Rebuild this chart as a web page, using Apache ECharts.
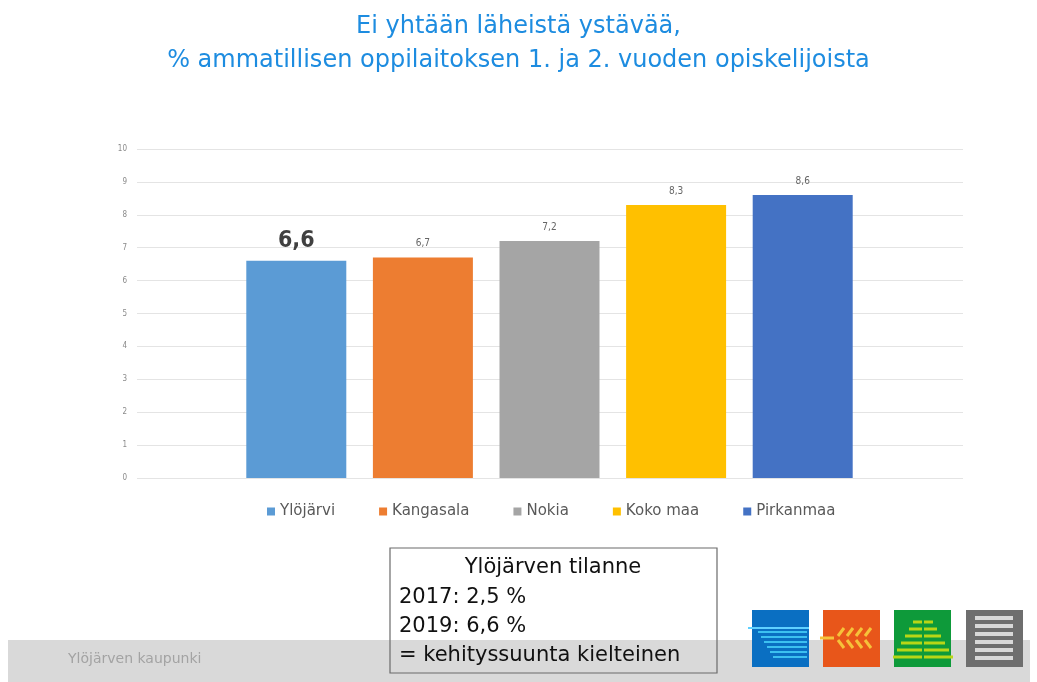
<!DOCTYPE html>
<html>
<head>
<meta charset="utf-8">
<script src="https://cdn.jsdelivr.net/npm/echarts@6/dist/echarts.min.js"></script>
<style>
  html, body { margin: 0; padding: 0; background: #fff; }
  #chart { width: 1037px; height: 682px; }
</style>
</head>
<body>
<div id="chart"></div>
<script>
// data
var categories = ['Ylöjärvi', 'Kangasala', 'Nokia', 'Koko maa', 'Pirkanmaa'];
var values = [6.6, 6.7, 7.2, 8.3, 8.6];
var colors = ['#5B9BD5', '#ED7D31', '#A5A5A5', '#FFC000', '#4472C4'];
var yTicks = [0, 1, 2, 3, 4, 5, 6, 7, 8, 9, 10];
var titleLines = ['Ei yhtään läheistä ystävää,', '% ammatillisen oppilaitoksen 1. ja 2. vuoden opiskelijoista'];
var boxTitle = 'Ylöjärven tilanne';
var boxLines = ['2017: 2,5 %', '2019: 6,6 %', '= kehityssuunta kielteinen'];
var footerText = 'Ylöjärven kaupunki';

var font = 'DejaVu Sans';
var narrow = 'DejaVu Sans Condensed';
var chart = echarts.init(document.getElementById('chart'));

function fmt(v) { return String(v).replace('.', ','); }

// one series per category so the legend gets one entry each
var series = categories.map(function (name, i) {
    return {
        name: name,
        type: 'bar',
        stack: 'all',
        xAxisIndex: 1,
        yAxisIndex: 1,
        barWidth: 100,
        itemStyle: { color: colors[i] },
        label: {
            show: true,
            position: 'top',
            distance: i === 0 ? 8 : 9,
            fontFamily: narrow,
            fontSize: i === 0 ? 23 : 10,
            fontWeight: i === 0 ? 'bold' : 'normal',
            color: i === 0 ? '#404040' : '#666',
            formatter: function (p) { return fmt(p.value); }
        },
        data: categories.map(function (c, j) { return j === i ? values[i] : '-'; })
    };
});

// little logo squares, bottom right
function logo(x, fill, lines) {
    var children = [{ type: 'rect', shape: { x: x, y: 610, width: 57, height: 57 }, style: { fill: fill } }];
    lines.forEach(function (l) {
        children.push({ type: 'line', shape: l.shape, style: { stroke: l.color, lineWidth: l.w || 2 } });
    });
    return { type: 'group', children: children };
}
var blueLines = [], orangeLines = [], greenLines = [], grayLines = [];
for (var k = 0; k < 6; k++) {
    blueLines.push({ shape: { x1: 752 + 6 + k * 3, y1: 632 + k * 5, x2: 809 - 2, y2: 632 + k * 5 }, color: '#3cc0f0', w: 2 });
    grayLines.push({ shape: { x1: 975, y1: 618 + k * 8, x2: 1013, y2: 618 + k * 8 }, color: '#d8d8d8', w: 4 });
    greenLines.push({ shape: { x1: 918 - 5 - k * 4, y1: 622 + k * 7, x2: 928 + 5 + k * 4, y2: 622 + k * 7 }, color: '#b8d616', w: 3 });
}
blueLines.push({ shape: { x1: 748, y1: 628, x2: 809, y2: 628 }, color: '#5fd0ff', w: 2 });
for (var m = 0; m < 4; m++) {
    orangeLines.push({ shape: { x1: 838 + m * 9, y1: 636, x2: 844 + m * 9, y2: 628 }, color: '#f6c23a', w: 3 });
    orangeLines.push({ shape: { x1: 838 + m * 9, y1: 640, x2: 844 + m * 9, y2: 648 }, color: '#f6c23a', w: 3 });
}
orangeLines.push({ shape: { x1: 820, y1: 638, x2: 834, y2: 638 }, color: '#f6c23a', w: 3 });
greenLines.push({ shape: { x1: 923, y1: 620, x2: 923, y2: 660 }, color: '#0e9a3a', w: 2 });

chart.setOption({
    animation: false,
    title: {
        text: titleLines.join('\n'),
        left: 'center',
        top: 5,
        textStyle: { fontFamily: font, fontSize: 24, fontWeight: 'normal', color: '#1d8ce0', lineHeight: 34 }
    },
    legend: {
        data: categories,
        left: 262,
        top: 499,
        itemWidth: 8,
        itemHeight: 8,
        itemGap: 44,
        icon: 'rect',
        textStyle: { fontFamily: font, fontSize: 15, color: '#595959' }
    },
    grid: [
        { left: 137, right: 74, top: 149, bottom: 204 },
        { left: 233, right: 171, top: 149, bottom: 204 }
    ],
    xAxis: [
        { type: 'category', gridIndex: 0, data: categories, show: false },
        { type: 'category', gridIndex: 1, data: categories, show: false }
    ],
    yAxis: [
        {
            type: 'value', gridIndex: 0, min: yTicks[0], max: yTicks[yTicks.length - 1], interval: 1,
            axisLine: { show: false }, axisTick: { show: false },
            axisLabel: { fontFamily: narrow, fontSize: 8, color: '#8a8a8a', margin: 10 },
            splitLine: { lineStyle: { color: '#e4e4e4', width: 1 } }
        },
        {
            type: 'value', gridIndex: 1, min: yTicks[0], max: yTicks[yTicks.length - 1], interval: 1,
            show: false, splitLine: { show: false }
        }
    ],
    series: series,
    graphic: [
        // footer strip
        { type: 'rect', z: 0, shape: { x: 8, y: 640, width: 1022, height: 42 }, style: { fill: '#d9d9d9' } },
        { type: 'text', x: 68, y: 659, style: { text: footerText, fontFamily: font, fontSize: 14, fill: '#a3a3a3', verticalAlign: 'middle' } },
        // info box
        { type: 'rect', z: 10, shape: { x: 390, y: 548, width: 327, height: 125 }, style: { fill: 'none', stroke: '#6b6b6b', lineWidth: 1.2 } },
        { type: 'text', z: 11, x: 553, y: 568, style: { text: boxTitle, fontFamily: font, fontSize: 21, fill: '#111', align: 'center', verticalAlign: 'middle' } },
        { type: 'text', z: 11, x: 399, y: 598, style: { text: boxLines[0], fontFamily: font, fontSize: 21, fill: '#111', verticalAlign: 'middle' } },
        { type: 'text', z: 11, x: 399, y: 627, style: { text: boxLines[1], fontFamily: font, fontSize: 21, fill: '#111', verticalAlign: 'middle' } },
        { type: 'text', z: 11, x: 399, y: 656, style: { text: boxLines[2], fontFamily: font, fontSize: 21, fill: '#111', verticalAlign: 'middle' } },
        logo(752, '#0a6fc2', blueLines),
        logo(823, '#e8561a', orangeLines),
        logo(894, '#0e9a3a', greenLines),
        logo(966, '#6e6e6e', grayLines)
    ]
});
</script>
</body>
</html>
